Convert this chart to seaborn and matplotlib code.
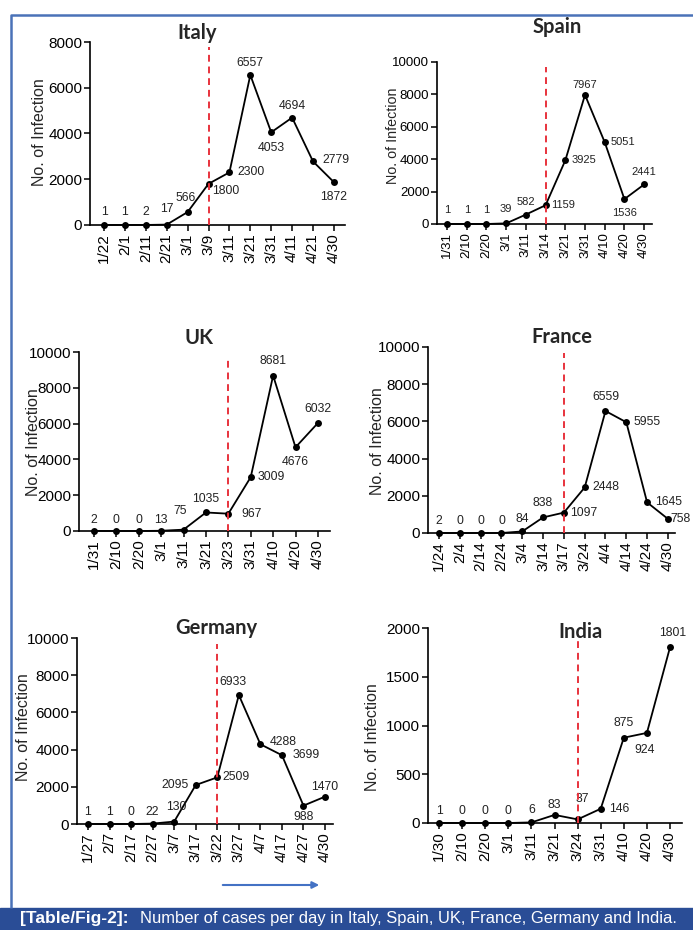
import matplotlib
matplotlib.use("Agg")
import matplotlib.pyplot as plt
import seaborn as sns
import numpy as np

sns.set_theme(style="ticks")
plt.rcParams['font.family'] = ['Liberation Sans', 'DejaVu Sans']

# ---- data ----
italy_dates = ['1/22', '2/1', '2/11', '2/21', '3/1', '3/9', '3/11', '3/21', '3/31', '4/11', '4/21', '4/30']
italy_cases = [1, 1, 2, 17, 566, 1800, 2300, 6557, 4053, 4694, 2779, 1872]

spain_dates = ['1/31', '2/10', '2/20', '3/1', '3/11', '3/14', '3/21', '3/31', '4/10', '4/20', '4/30']
spain_cases = [1, 1, 1, 39, 582, 1159, 3925, 7967, 5051, 1536, 2441]

uk_dates = ['1/31', '2/10', '2/20', '3/1', '3/11', '3/21', '3/23', '3/31', '4/10', '4/20', '4/30']
uk_cases = [2, 0, 0, 13, 75, 1035, 967, 3009, 8681, 4676, 6032]

france_dates = ['1/24', '2/4', '2/14', '2/24', '3/4', '3/14', '3/17', '3/24', '4/4', '4/14', '4/24', '4/30']
france_cases = [2, 0, 0, 0, 84, 838, 1097, 2448, 6559, 5955, 1645, 758]

germany_dates = ['1/27', '2/7', '2/17', '2/27', '3/7', '3/17', '3/22', '3/27', '4/7', '4/17', '4/27', '4/30']
germany_cases = [1, 1, 0, 22, 130, 2095, 2509, 6933, 4288, 3699, 988, 1470]

india_dates = ['1/30', '2/10', '2/20', '3/1', '3/11', '3/21', '3/24', '3/31', '4/10', '4/20', '4/30']
india_cases = [1, 0, 0, 0, 6, 83, 37, 146, 875, 924, 1801]

# lockdown date (index in the date list)
lockdown_idx = {'Italy': 5, 'Spain': 5, 'UK': 6, 'France': 6, 'Germany': 6, 'India': 6}

W, H = 693, 930
fig = plt.figure(figsize=(W / 100, H / 100), dpi=100)

# label offsets in pixels, one per point
italy_off = [(0, 13), (0, 13), (0, 13), (0, 16), (-2, 14), (17, -7), (22, 0), (0, 12),
             (0, -16), (0, 12), (23, 1), (0, -15)]
spain_off = [(0, 14), (0, 14), (0, 14), (0, 14), (0, 13), (17, 0), (19, 0), (0, 10),
             (18, 0), (0, -14), (0, 12)]
uk_off = [(0, 11), (0, 11), (0, 11), (0, 11), (-3, 19), (0, 13), (23, 0), (21, 0),
          (0, 15), (0, -15), (0, 14)]
france_off = [(0, 12), (0, 12), (0, 12), (0, 12), (0, 12), (0, 14), (20, 0), (21, 0),
              (0, 14), (21, 0), (22, 0), (13, 0)]
germany_off = [(0, 12), (0, 12), (0, 12), (0, 12), (2, 15), (-21, 0), (19, 0), (-6, 13),
               (23, 2), (24, 0), (0, -11), (0, 10)]
india_off = [(0, 12), (0, 12), (0, 12), (0, 12), (0, 12), (0, 10), (5, 20), (19, 0),
             (0, 15), (-2, -17), (3, 14)]

# name, dates, cases, offsets, ymax, yticks, [left, right, y0, ytop px], xlim, title xy, ylabel xy,
# tick font, label font, annotation font
panels = [
    ('Italy', italy_dates, italy_cases, italy_off, 8000, [0, 2000, 4000, 6000, 8000],
     (90, 345, 225, 42), (-0.67, 11.53), (197, 33), (40, 132), 11, 11.5, 8.8),
    ('Spain', spain_dates, spain_cases, spain_off, 10000, [0, 2000, 4000, 6000, 8000, 10000],
     (437, 652, 224, 62), (-0.51, 10.4), (557, 27), (393, 136), 9.5, 10.3, 8),
    ('UK', uk_dates, uk_cases, uk_off, 10000, [0, 2000, 4000, 6000, 8000, 10000],
     (79, 330, 531, 352), (-0.67, 10.54), (199, 338), (33, 442), 11, 11.5, 8.8),
    ('France', france_dates, france_cases, france_off, 10000, [0, 2000, 4000, 6000, 8000, 10000],
     (428, 675, 533, 347), (-0.53, 11.34), (562, 337), (378, 441), 11, 11.5, 8.8),
    ('Germany', germany_dates, germany_cases, germany_off, 10000, [0, 2000, 4000, 6000, 8000, 10000],
     (77, 333, 824, 638), (-0.51, 11.37), (216, 628), (23, 727), 11, 11.5, 8.8),
    ('India', india_dates, india_cases, india_off, 2000, [0, 500, 1000, 1500, 2000],
     (428, 682, 823, 628), (-0.48, 10.52), (580, 632), (373, 737), 11, 11.5, 8.8),
]

for (name, dates, cases, offs, ymax, yticks, box, xlim, tpos, lpos, tfs, lfs, afs) in panels:
    left, right, y0, ytop = box
    ax = fig.add_axes([left / W, 1 - y0 / H, (right - left) / W, (y0 - ytop) / H])
    ax.patch.set_alpha(0)
    idx = np.arange(len(dates))
    sns.lineplot(x=idx, y=cases, ax=ax, color='black', marker='o', markersize=5,
                 markeredgewidth=0, linewidth=1.3, clip_on=False)
    ax.axvline(lockdown_idx[name], ymin=0, ymax=0.97, color='#e8323c', linestyle=(0, (3.5, 2.5)),
               linewidth=1.4, zorder=5, clip_on=False)
    ax.set_xlim(*xlim)
    ax.set_ylim(0, ymax)
    ax.set_yticks(yticks)
    ax.set_xticks(idx)
    ax.set_xticklabels(dates, rotation=90)
    ax.tick_params(axis='both', labelsize=tfs, colors='black', width=1.1, length=4, pad=1.5)
    ax.tick_params(axis='x', pad=2)
    sns.despine(ax=ax)
    for sp in ('left', 'bottom'):
        ax.spines[sp].set_color('black')
        ax.spines[sp].set_linewidth(1.2)
    ax.set_xlabel('')
    ax.set_ylabel('')
    for i, (v, o) in enumerate(zip(cases, offs)):
        ax.annotate(str(v), (i, v), xytext=o, textcoords='offset pixels', ha='center',
                    va='center', fontsize=afs, color='#222222', annotation_clip=False)
    fig.text(tpos[0] / W, 1 - tpos[1] / H, name, ha='center', va='center', fontsize=14.5,
             fontweight='bold', family=['Lato', 'DejaVu Sans'])
    fig.text(lpos[0] / W, 1 - lpos[1] / H, 'No. of Infection', rotation=90, ha='center',
             va='center', fontsize=lfs)

# frame lines, arrow and caption band
frame = fig.add_axes([0, 0, 1, 1])
frame.set_xlim(0, W)
frame.set_ylim(H, 0)
frame.axis('off')
frame.patch.set_alpha(0)
frame.plot([11, 11, W], [908, 15, 15], color='#4a72b8', linewidth=1.8, solid_capstyle='butt')
frame.annotate('', xy=(322, 885), xytext=(220, 885),
               arrowprops=dict(arrowstyle='-|>', color='#4472c4', lw=1.5, mutation_scale=10))
frame.add_patch(plt.Rectangle((0, 908), W, 22, color='#2a4d96', zorder=1))
frame.text(20, 918.5, '[Table/Fig-2]:', color='white', fontsize=12.5, fontweight='bold',
           va='center', ha='left', zorder=2)
frame.text(140, 918.5, 'Number of cases per day in Italy, Spain, UK, France, Germany and India.',
           color='white', fontsize=11.9, va='center', ha='left', zorder=2)

fig.savefig('out.png', dpi=100, facecolor='white')
